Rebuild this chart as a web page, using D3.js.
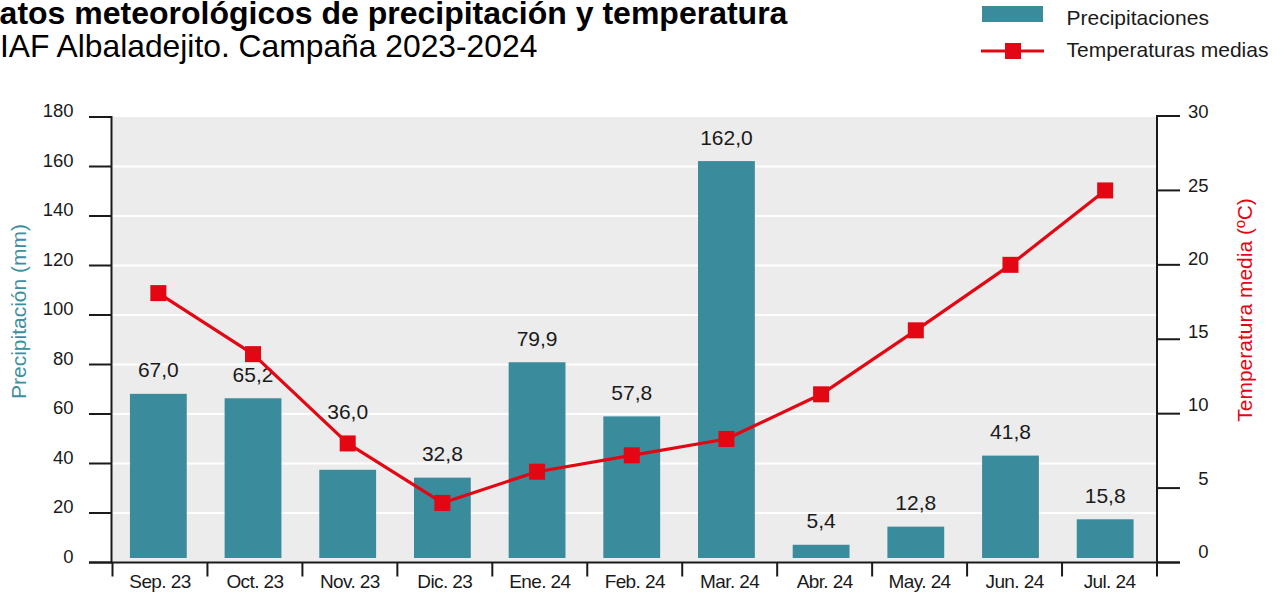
<!DOCTYPE html>
<html>
<head>
<meta charset="utf-8">
<script src="https://cdn.jsdelivr.net/npm/d3@7"></script>
<style>
  html, body { margin: 0; padding: 0; background: #fff; overflow: hidden; }
  svg { display: block; font-family: "Liberation Sans", Arial, Helvetica, sans-serif; }
</style>
</head>
<body>
<svg id="chart" width="1284" height="595"></svg>
<script>
// ---- datos ----
const months = ["Sep. 23", "Oct. 23", "Nov. 23", "Dic. 23", "Ene. 24", "Feb. 24",
                "Mar. 24", "Abr. 24", "May. 24", "Jun. 24", "Jul. 24"];
const precip = [67.0, 65.2, 36.0, 32.8, 79.9, 57.8, 162.0, 5.4, 12.8, 41.8, 15.8];
const tempMedia = [18.1, 14.0, 8.0, 4.0, 6.1, 7.2, 8.3, 11.3, 15.6, 20.0, 25.0];
const precipTicks = [0, 20, 40, 60, 80, 100, 120, 140, 160, 180];
const tempTicks = [0, 5, 10, 15, 20, 25, 30];

const TEAL = "#3a8b9b", TEAL_TXT = "#3d8fa0", RED = "#e30613", INK = "#1a1a1a";
const fmt = (v) => v.toFixed(1).replace(".", ",");

const svg = d3.select("#chart");

// ---- escalas ----
const xAxis = d3.scaleBand().domain(months).range([112.5, 1157]);
const xBar = d3.scaleBand().domain(months).range([111, 1152.5]).paddingInner(0.4).paddingOuter(0.2);
const yP = d3.scaleLinear().domain([0, 180]).range([562.5, 117]);
const yBar = d3.scaleLinear().domain([0, 180]).range([558, 117]);   // barras arrancan algo por encima del eje
const yT = d3.scaleLinear().domain([0, 30]).range([562.5, 116]);
const yTLab = d3.scaleLinear().domain([0, 30]).range([558, 118.3]);
const cx = (i) => xBar(months[i]) + xBar.bandwidth() / 2;

// ---- título ----
svg.append("text").attr("x", -23.5).attr("y", 24).attr("font-size", 32).attr("font-weight", "bold")
  .attr("fill", "#000").text("Datos meteorológicos de precipitación y temperatura");
svg.append("text").attr("x", -23).attr("y", 57).attr("font-size", 31.8)
  .attr("fill", "#000").text("CIAF Albaladejito. Campaña 2023-2024");

// ---- leyenda ----
svg.append("rect").attr("x", 982).attr("y", 6).attr("width", 61).attr("height", 16).attr("fill", TEAL);
svg.append("text").attr("x", 1066.5).attr("y", 25).attr("font-size", 21).attr("fill", INK).text("Precipitaciones");
svg.append("line").attr("x1", 981).attr("x2", 1044).attr("y1", 51).attr("y2", 51)
  .attr("stroke", RED).attr("stroke-width", 3);
svg.append("rect").attr("x", 1005).attr("y", 43).attr("width", 16).attr("height", 16).attr("fill", RED);
svg.append("text").attr("x", 1066.5).attr("y", 57).attr("font-size", 21).attr("fill", INK).text("Temperaturas medias");

// ---- fondo y rejilla ----
svg.append("rect").attr("x", 112).attr("y", yP(180)).attr("width", 1157 - 112)
  .attr("height", yP(0) - yP(180)).attr("fill", "#ececec");
svg.append("g").selectAll("line").data(precipTicks.filter((d) => d > 0 && d < 180)).join("line")
  .attr("x1", 112).attr("x2", 1157).attr("y1", (d) => yP(d)).attr("y2", (d) => yP(d))
  .attr("stroke", "#fff").attr("stroke-width", 2);

// ---- barras ----
svg.append("g").selectAll("rect").data(precip).join("rect")
  .attr("x", (d, i) => xBar(months[i])).attr("width", xBar.bandwidth())
  .attr("y", (d) => yBar(d)).attr("height", (d) => yBar(0) - yBar(d))
  .attr("fill", TEAL);

// etiqueta sobre la barra; si choca con el marcador de temperatura, se sube por encima
function labelY(d, i) {
  const base = yBar(d) - 16.5;
  const mTop = yT(tempMedia[i]) - 8, mBot = yT(tempMedia[i]) + 8;
  if (mBot > base - 17 && mTop < base) return mTop - 16.5;
  return base;
}
svg.append("g").selectAll("text").data(precip).join("text")
  .attr("x", (d, i) => cx(i)).attr("y", labelY)
  .attr("text-anchor", "middle").attr("font-size", 21).attr("fill", INK).text(fmt);

// ---- línea de temperatura ----
const line = d3.line().x((d, i) => cx(i)).y((d) => yT(d));
svg.append("path").datum(tempMedia).attr("d", line).attr("fill", "none")
  .attr("stroke", RED).attr("stroke-width", 3.2).attr("stroke-linejoin", "round");
svg.append("g").selectAll("rect").data(tempMedia).join("rect")
  .attr("x", (d, i) => cx(i) - 8).attr("y", (d) => yT(d) - 8)
  .attr("width", 16).attr("height", 16).attr("fill", RED);

// ---- ejes ----
const axis = svg.append("g").attr("stroke", INK).attr("stroke-width", 2);
// izquierdo
axis.append("line").attr("x1", 111.5).attr("x2", 111.5).attr("y1", yP(180) - 1).attr("y2", yP(0));
axis.selectAll("line.tl").data(precipTicks).join("line").attr("class", "tl")
  .attr("x1", 89).attr("x2", 112).attr("y1", (d) => yP(d)).attr("y2", (d) => yP(d));
// derecho
axis.append("line").attr("x1", 1157).attr("x2", 1157).attr("y1", yT(30) - 1).attr("y2", yT(0));
axis.selectAll("line.tr").data(tempTicks).join("line").attr("class", "tr")
  .attr("x1", 1157).attr("x2", 1180).attr("y1", (d) => yT(d)).attr("y2", (d) => yT(d));
// inferior
axis.append("line").attr("x1", 89).attr("x2", 1180).attr("y1", yP(0)).attr("y2", yP(0));
axis.selectAll("line.tb").data(months.concat(["end"])).join("line").attr("class", "tb")
  .attr("x1", (d) => (d === "end" ? 1157 : xAxis(d))).attr("x2", (d) => (d === "end" ? 1157 : xAxis(d)))
  .attr("y1", yP(0)).attr("y2", yP(0) + 14);

svg.append("g").selectAll("text").data(precipTicks).join("text")
  .attr("x", 73.5).attr("y", (d) => yP(d)).attr("text-anchor", "end")
  .attr("font-size", 18.5).attr("fill", INK).text((d) => d);
svg.append("g").selectAll("text").data(tempTicks).join("text")
  .attr("x", 1208.5).attr("y", (d) => yTLab(d)).attr("text-anchor", "end")
  .attr("font-size", 18.5).attr("fill", INK).text((d) => d);
svg.append("g").selectAll("text").data(months).join("text")
  .attr("x", (d) => xAxis(d) + xAxis.bandwidth() / 2).attr("y", 588)
  .attr("text-anchor", "middle").attr("font-size", 19).attr("letter-spacing", -0.6)
  .attr("fill", INK).text((d) => d);

// ---- títulos de ejes ----
svg.append("text").attr("transform", "translate(25.5,311.5) rotate(-90)")
  .attr("text-anchor", "middle").attr("font-size", 21).attr("fill", TEAL_TXT).text("Precipitación (mm)");
svg.append("text").attr("transform", "translate(1251.5,310) rotate(-90)")
  .attr("text-anchor", "middle").attr("font-size", 21).attr("fill", RED).text("Temperatura media (ºC)");
</script>
</body>
</html>
